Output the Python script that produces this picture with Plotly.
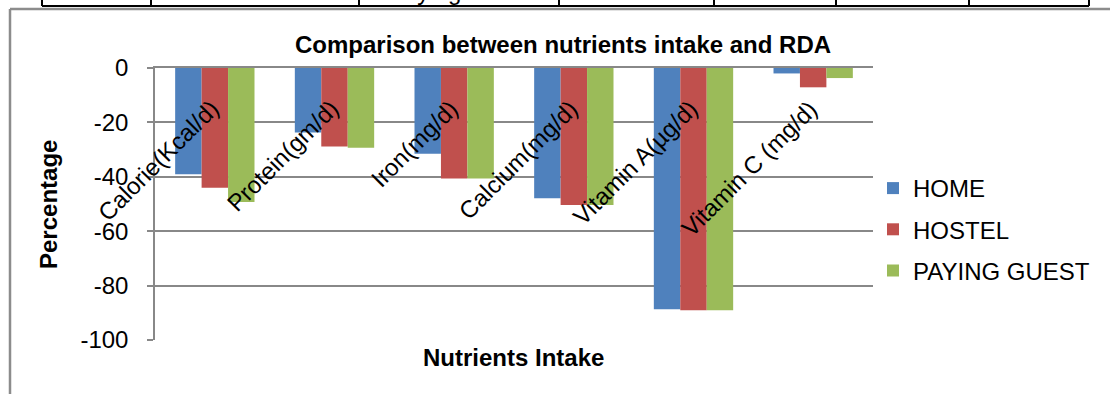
import plotly.graph_objects as go

categories = ["Calorie(Kcal/d)", "Protein(gm/d)", "Iron(mg/d)", "Calcium(mg/d)",
              "Vitamin A(µg/d)", "Vitamin C (mg/d)"]
home = [-39.1, -23.7, -31.5, -47.9, -88.7, -2.0]
hostel = [-44.0, -28.9, -40.6, -50.4, -89.1, -7.1]
paying_guest = [-49.3, -29.3, -40.6, -50.4, -89.1, -3.7]
series_names = ["HOME", "HOSTEL", "PAYING GUEST"]
series_colors = ["#4F81BD", "#C0504D", "#9BBB59"]
y_ticks = [0, -20, -40, -60, -80, -100]
table_texts = ["Paying Guest", "4.12", "43.54", "0.001"]
table_text_x = [460, 638, 911, 1028]
table_cols_x = [42, 151, 359, 559, 714, 836, 969, 1089]

W, H = 1110, 394
L, R, T, B = 155, 237, 68, 54
PW, PH = W - L - R, H - T - B


def px(x):
    return (x - L) / PW


def py(y):
    return (H - B - y) / PH


FONT = "Liberation Sans, Arial, sans-serif"
GRID = "#888888"

fig = go.Figure()
for name, vals, col in zip(series_names, [home, hostel, paying_guest], series_colors):
    fig.add_trace(go.Bar(x=categories, y=vals, name=name, marker_color=col,
                         marker_line_width=0, legendgroup=name))

annotations = []
for c in categories:
    annotations.append(dict(x=c, y=0, xref="x", yref="y", text=c, showarrow=False,
                            textangle=-45, xanchor="right", yanchor="top",
                            xshift=12, yshift=-24,
                            font=dict(family=FONT, size=24, color="#000000")))

annotations.append(dict(x=px(563), y=py(44), xref="paper", yref="paper",
                        text="<b>Comparison between nutrients intake and RDA</b>",
                        showarrow=False, xanchor="center", yanchor="middle",
                        font=dict(family=FONT, size=24, color="#000000")))
annotations.append(dict(x=px(513), y=py(357), xref="paper", yref="paper",
                        text="<b>Nutrients Intake</b>", showarrow=False,
                        xanchor="center", yanchor="middle",
                        font=dict(family=FONT, size=24, color="#000000")))
annotations.append(dict(x=px(48), y=py(205), xref="paper", yref="paper",
                        text="<b>Percentage</b>", showarrow=False, textangle=-90,
                        xanchor="center", yanchor="middle",
                        font=dict(family=FONT, size=24, color="#000000")))
for t, tx in zip(table_texts, table_text_x):
    annotations.append(dict(x=px(tx), y=py(7), xref="paper", yref="paper",
                            text=t, showarrow=False, xanchor="center", yanchor="bottom",
                            font=dict(family=FONT, size=24, color="#000000")))

shapes = []
# table fragment at top
shapes.append(dict(type="line", xref="paper", yref="paper", x0=px(42), x1=px(1089),
                   y0=py(6), y1=py(6), line=dict(color="#000000", width=2)))
for cx in table_cols_x:
    shapes.append(dict(type="line", xref="paper", yref="paper", x0=px(cx), x1=px(cx),
                       y0=py(-5), y1=py(6), line=dict(color="#000000", width=2)))
# chart frame
shapes.append(dict(type="line", xref="paper", yref="paper", x0=px(10), x1=px(1115),
                   y0=py(9), y1=py(9), line=dict(color="#8c8c8c", width=2.5)))
shapes.append(dict(type="line", xref="paper", yref="paper", x0=px(10), x1=px(10),
                   y0=py(9), y1=py(400), line=dict(color="#8c8c8c", width=2.5)))

fig.update_layout(
    width=W, height=H,
    margin=dict(l=L, r=R, t=T, b=B, pad=0),
    paper_bgcolor="white", plot_bgcolor="white",
    barmode="group", bargap=0.337, bargroupgap=0,
    font=dict(family=FONT, size=24, color="#000000"),
    showlegend=True,
    legend=dict(x=px(873), y=py(166), xanchor="left", yanchor="top",
                font=dict(family=FONT, size=24, color="#000000"),
                tracegroupgap=7, itemwidth=30, bgcolor="rgba(0,0,0,0)"),
    xaxis=dict(side="top", range=[-0.5, len(categories) - 0.5], autorange=False,
               showline=True, linecolor=GRID, linewidth=1.5,
               showticklabels=False, ticks="", showgrid=False, zeroline=False),
    yaxis=dict(range=[-100, 0], autorange=False, tickvals=y_ticks,
               ticktext=[str(v) for v in y_ticks],
               showline=True, linecolor=GRID, linewidth=1.5, ticks="outside",
               ticklen=6, tickcolor=GRID, tickwidth=1.5,
               showgrid=True, gridcolor=GRID, gridwidth=1.5, zeroline=False,
               tickfont=dict(family=FONT, size=24, color="#000000"), ticklabelstandoff=14),
    annotations=annotations, shapes=shapes,
)

fig.write_html("out.html", config={"displayModeBar": False},
               post_script="document.body.style.margin='0';")
